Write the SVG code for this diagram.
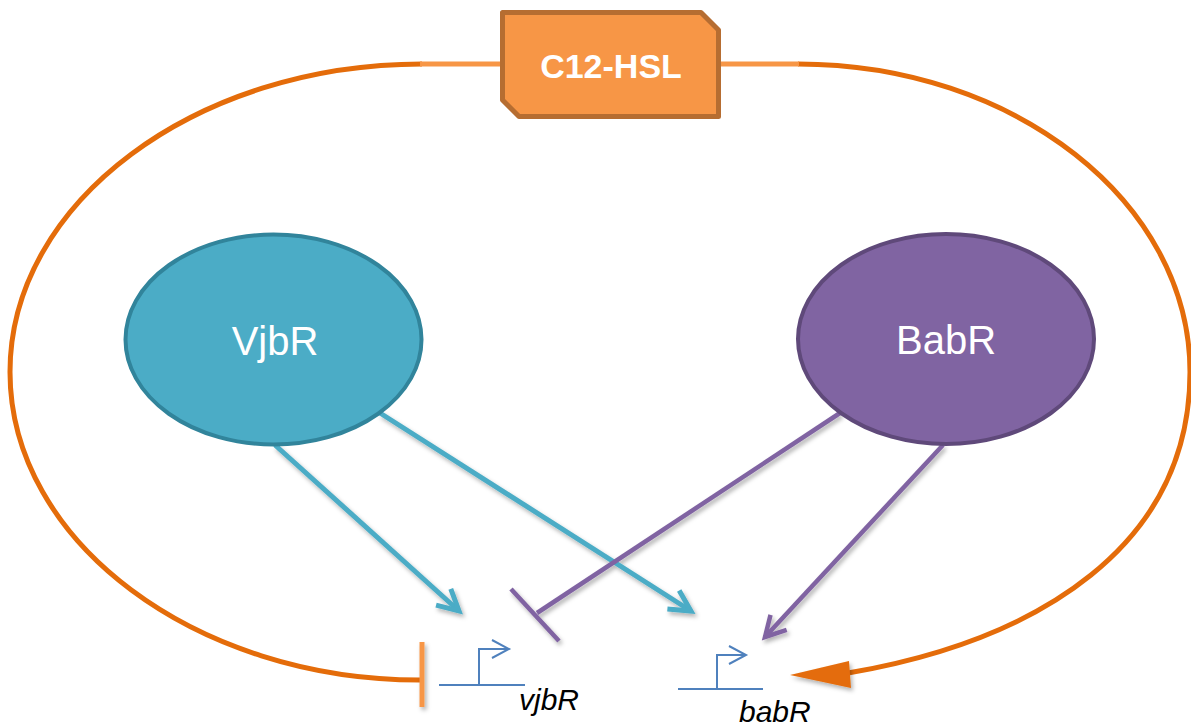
<svg xmlns="http://www.w3.org/2000/svg" width="1191" height="727" viewBox="0 0 1191 727">
  <style>
    .loop { fill: none; stroke: #E46C0A; stroke-width: 5; }
    .link { fill: none; stroke: #F79646; stroke-width: 5; }
    .act-teal { fill: none; stroke: #4BACC6; stroke-width: 5; }
    .act-purple { fill: none; stroke: #8064A2; stroke-width: 4.5; }
    .promoter { fill: none; stroke: #4F81BD; stroke-width: 2; }
    .node-label { font-family: "Liberation Sans", Arial, sans-serif; font-size: 40px; fill: #FFFFFF; text-anchor: middle; }
    .gene { font-family: "Liberation Sans", Arial, sans-serif; font-size: 30px; font-style: italic; fill: #000000; }
  </style>
  <defs>
    <filter id="softShadow" x="-10%" y="-10%" width="120%" height="120%">
      <feDropShadow dx="2" dy="3" stdDeviation="2" flood-color="#000000" flood-opacity="0.3"/>
    </filter>
    <marker id="headTeal" markerUnits="userSpaceOnUse" viewBox="-30 -20 40 40" markerWidth="40" markerHeight="40" refX="0" refY="0" orient="auto" overflow="visible">
      <path d="M-21,-11 L0,0 L-21,11" fill="none" stroke="#4BACC6" stroke-width="5"/>
    </marker>
    <marker id="headPurple" markerUnits="userSpaceOnUse" viewBox="-30 -20 40 40" markerWidth="40" markerHeight="40" refX="0" refY="0" orient="auto" overflow="visible">
      <path d="M-20,-11 L0,0 L-20,11" fill="none" stroke="#8064A2" stroke-width="4.5"/>
    </marker>
    <marker id="headPromoter" markerUnits="userSpaceOnUse" viewBox="-20 -12 24 24" markerWidth="24" markerHeight="24" refX="0" refY="0" orient="auto" overflow="visible">
      <path d="M-17,-9 L0,0 L-17,9" fill="none" stroke="#4F81BD" stroke-width="2"/>
    </marker>
  </defs>

  <!-- connectors -->
  <g id="connectors">
    <!-- signal loop around the cell -->
    <path class="loop" d="M422,64 C196,64 10,202 10,372 C10,542 196,680 420,680"/>
    <path class="loop" d="M798,64 C1014,64 1190,202 1190,372 C1190,545 1040,640 848,673"/>
    <line class="link" x1="420" y1="64" x2="502" y2="64"/>
    <line class="link" x1="719" y1="64" x2="799" y2="64"/>
    <g filter="url(#softShadow)">
      <line class="link" x1="422" y1="642" x2="422" y2="707"/>
      <polygon points="790,675 849,661 851,688" fill="#E46C0A"/>
      <!-- VjbR activation -->
      <line class="act-teal" x1="275" y1="445" x2="459" y2="611" marker-end="url(#headTeal)"/>
      <line class="act-teal" x1="380" y1="413" x2="691" y2="611" marker-end="url(#headTeal)"/>
      <!-- BabR repression of vjbR -->
      <line class="act-purple" x1="840" y1="413" x2="537" y2="613"/>
      <line class="act-purple" x1="511" y1="589" x2="559" y2="641"/>
      <!-- BabR activation of babR -->
      <line class="act-purple" x1="943" y1="445" x2="765" y2="637" marker-end="url(#headPurple)"/>
    </g>
  </g>

  <!-- autoinducer -->
  <g id="node-c12hsl">
    <polygon points="502.5,12.5 701,12.5 718.5,30 718.5,116.5 519,116.5 502.5,100" fill="#F79646" stroke="#B66D31" stroke-width="5" stroke-linejoin="round"/>
    <text x="611" y="78" font-family="'Liberation Sans', Arial, sans-serif" font-size="34" font-weight="bold" fill="#FFFFFF" text-anchor="middle">C12-HSL</text>
  </g>

  <!-- regulators -->
  <g id="node-vjbr">
    <ellipse cx="273.5" cy="339.5" rx="148" ry="105" fill="#4BACC6" stroke="#31849B" stroke-width="4"/>
    <text class="node-label" x="275" y="355">VjbR</text>
  </g>
  <g id="node-babr">
    <ellipse cx="946" cy="339" rx="148" ry="105" fill="#8064A2" stroke="#5F497A" stroke-width="4"/>
    <text class="node-label" x="946" y="354">BabR</text>
  </g>

  <!-- promoters -->
  <g id="node-vjbR-promoter">
    <line class="promoter" x1="439" y1="685" x2="525" y2="685"/>
    <path class="promoter" d="M479,685 L479,649 L509,649" marker-end="url(#headPromoter)"/>
    <text class="gene" x="519" y="710">vjbR</text>
  </g>
  <g id="node-babR-promoter">
    <line class="promoter" x1="678" y1="689" x2="763" y2="689"/>
    <path class="promoter" d="M717,689 L717,655 L746,655" marker-end="url(#headPromoter)"/>
    <text class="gene" x="739" y="722">babR</text>
  </g>
</svg>
